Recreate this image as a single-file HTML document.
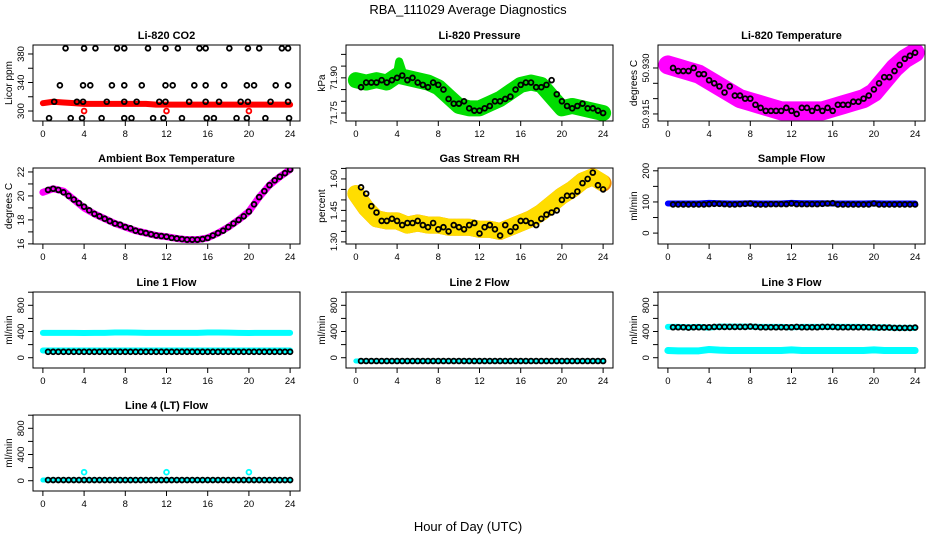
<!DOCTYPE html>
<html><head><meta charset="utf-8">
<style>
html,body{margin:0;padding:0;background:#fff;}
svg{display:block;font-family:"Liberation Sans",sans-serif;}
</style></head>
<body>
<svg id="chart" width="936" height="540" viewBox="0 0 936 540" xmlns="http://www.w3.org/2000/svg">
<rect x="0" y="0" width="936" height="540" fill="#fff"/>
<text x="468" y="14" text-anchor="middle" font-size="13">RBA_111029  Average Diagnostics</text>
<text x="468" y="531" text-anchor="middle" font-size="13">Hour of Day (UTC)</text>
</svg>
<script>
// ---- shared categories ----
const bandHours = [0,1,2,3,4,5,6,7,8,9,10,11,12,13,14,15,16,17,18,19,20,21,22,23,24];
const circHours = [0.5,1,1.5,2,2.5,3,3.5,4,4.5,5,5.5,6,6.5,7,7.5,8,8.5,9,9.5,10,10.5,11,11.5,12,12.5,13,13.5,14,14.5,15,15.5,16,16.5,17,17.5,18,18.5,19,19.5,20,20.5,21,21.5,22,22.5,23,23.5,24];
const xTicks = [0,4,8,12,16,20,24];

// ---- CO2 ----
const co2Band = [311,313,312,311,310,310,310,310,310,310,310,309,309,309,309,309,309,309,309,309,309,309,309,309,309];
const co2CircH = [2.2,4.0,5.1,7.2,7.9,10.2,11.9,13.1,15.2,15.8,18.1,19.9,21.0,23.2,23.8,
  1.65,3.9,4.6,6.7,7.9,9.6,11.9,12.6,14.7,15.8,17.6,19.8,20.5,22.6,23.8,
  1.1,3.3,3.9,6.2,7.9,9.1,11.3,11.9,14.2,15.8,17.1,19.2,19.9,22.1,23.8,
  0.6,2.7,3.8,5.7,7.9,8.6,10.7,11.7,13.5,15.9,16.6,18.8,19.8,21.6,23.9];
const co2CircV = [388,388,388,388,388,388,388,388,388,388,388,388,388,388,388,
  336,336,336,336,336,336,336,336,336,336,336,336,336,336,336,
  313,313,313,313,313,313,313,313,313,313,313,313,313,313,313,
  290,290,290,290,290,290,290,290,290,290,290,290,290,290,290];
const co2OutH = [4,12,20];
const co2OutV = [300,300,300];

// ---- Pressure ----
const presBand = [71.89,71.88,71.89,71.88,71.91,71.90,71.89,71.88,71.86,71.82,71.78,71.77,71.77,71.79,71.81,71.84,71.87,71.88,71.87,71.82,71.77,71.78,71.77,71.76,71.75];
const presCirc = [71.86,71.88,71.88,71.88,71.89,71.88,71.89,71.90,71.91,71.89,71.90,71.88,71.87,71.86,71.88,71.87,71.85,71.81,71.79,71.79,71.80,71.77,71.76,71.76,71.77,71.78,71.80,71.80,71.81,71.82,71.85,71.87,71.88,71.88,71.86,71.86,71.87,71.89,71.83,71.80,71.78,71.77,71.78,71.79,71.77,71.77,71.76,71.75];
const presSpikeH = [4.0,4.2,4.5];
const presSpikeV = [71.92,71.97,71.93];

// ---- Li-820 Temperature ----
const ltBand = [50.931,50.930,50.929,50.928,50.926,50.924,50.922,50.920,50.919,50.918,50.917,50.916,50.916,50.916,50.916,50.916,50.917,50.918,50.919,50.920,50.922,50.926,50.930,50.933,50.935];
const ltCirc = [50.930,50.929,50.929,50.929,50.930,50.928,50.928,50.926,50.925,50.924,50.922,50.924,50.921,50.921,50.920,50.920,50.918,50.917,50.916,50.916,50.916,50.916,50.917,50.916,50.915,50.917,50.917,50.916,50.917,50.916,50.917,50.916,50.918,50.918,50.918,50.919,50.919,50.920,50.921,50.923,50.925,50.927,50.927,50.929,50.931,50.933,50.934,50.935];

// ---- Ambient ----
const ambBand = [20.3,20.6,20.4,19.7,19.0,18.5,18.1,17.7,17.4,17.1,16.9,16.7,16.6,16.45,16.35,16.35,16.5,16.9,17.4,18.0,18.7,19.9,20.9,21.6,22.2];
const ambCirc = [20.5,20.6,20.5,20.3,20.0,19.7,19.4,19.1,18.8,18.5,18.3,18.1,17.9,17.7,17.6,17.4,17.3,17.1,17.0,16.9,16.8,16.7,16.65,16.6,16.5,16.45,16.4,16.35,16.35,16.35,16.4,16.5,16.7,16.9,17.1,17.4,17.7,18.0,18.3,18.7,19.3,19.9,20.4,20.9,21.3,21.6,21.9,22.2];

// ---- RH ----
const rhBand = [1.53,1.46,1.41,1.40,1.40,1.38,1.39,1.38,1.38,1.37,1.37,1.37,1.36,1.36,1.35,1.37,1.39,1.41,1.44,1.48,1.52,1.55,1.59,1.61,1.58];
const rhCirc = [1.56,1.53,1.47,1.44,1.40,1.40,1.41,1.40,1.38,1.39,1.39,1.40,1.38,1.37,1.39,1.36,1.37,1.35,1.38,1.37,1.36,1.38,1.39,1.34,1.37,1.38,1.36,1.33,1.38,1.35,1.37,1.40,1.40,1.39,1.38,1.41,1.43,1.44,1.45,1.50,1.52,1.52,1.54,1.58,1.60,1.63,1.57,1.55];

// ---- Flows ----
const sfBand = [95,95,95,95,97,96,95,95,96,95,95,95,97,96,96,96,95,95,95,95,96,95,95,95,95];
const sfCirc = [92,92,92,92,92,92,92,93,94,94,93,92,92,93,94,95,92,92,92,93,93,93,93,95,93,93,93,93,93,94,95,96,92,92,92,92,92,92,92,95,92,92,92,92,92,92,92,92];
const l1BandA = [380,380,380,380,378,380,380,385,385,382,380,380,380,380,380,380,385,385,382,380,378,380,380,380,380];
const l1BandB = [110,110,110,110,110,110,110,110,110,110,110,110,110,110,110,110,110,110,110,110,110,110,110,110,110];
const l1Circ = [90,90,90,90,90,90,90,90,90,90,90,90,90,90,90,90,90,90,90,90,90,90,90,90,90,90,90,90,90,90,90,90,90,90,90,90,90,90,90,90,90,90,90,90,90,90,90,90];
const l2Band = [-50,-50,-50,-50,-50,-50,-50,-50,-50,-50,-50,-50,-50,-50,-50,-50,-50,-50,-50,-50,-50,-50,-50,-50,-50];
const l2Circ = [-50,-50,-50,-50,-50,-50,-50,-50,-50,-50,-50,-50,-50,-50,-50,-50,-50,-50,-50,-50,-50,-50,-50,-50,-50,-50,-50,-50,-50,-50,-50,-50,-50,-50,-50,-50,-50,-50,-50,-50,-50,-50,-50,-50,-50,-50,-50,-50];
const l3BandA = [470,470,465,470,460,475,475,475,475,470,470,470,465,470,470,470,470,470,470,470,460,465,455,455,455];
const l3BandB = [110,105,105,105,125,115,110,110,110,110,110,110,120,110,110,110,110,110,110,110,120,110,110,110,110];
const l3Circ = [465,465,465,460,465,465,465,465,470,470,470,470,470,470,470,475,470,465,465,465,465,465,465,465,470,465,465,465,465,470,470,470,465,465,465,465,465,465,465,465,460,460,460,455,455,455,455,460];
const l4Band = [10,10,10,10,10,10,10,10,10,10,10,10,10,10,10,10,10,10,10,10,10,10,10,10,10];
const l4Circ = [10,10,10,10,10,10,10,10,10,10,10,10,10,10,10,10,10,10,10,10,10,10,10,10,10,10,10,10,10,10,10,10,10,10,10,10,10,10,10,10,10,10,10,10,10,10,10,10];
const l4OutH = [4,12,20];
const l4OutV = [130,130,130];

// ---- tick labels ----
const co2Ticks = [300,320,340,360,380]; const co2Labels = ["300","","340","","380"];
const presTicks = [71.75,71.80,71.85,71.90,71.95,72.00]; const presLabels = ["71.75","","","71.90","",""];
const ltTicks = [50.915,50.920,50.925,50.930]; const ltLabels = ["50.915","","","50.930"];
const ambTicks = [16,17,18,19,20,21,22]; const ambLabels = ["16","","18","","20","","22"];
const rhTicks = [1.30,1.35,1.40,1.45,1.50,1.55,1.60,1.65]; const rhLabels = ["1.30","","","1.45","","","1.60",""];
const sfTicks = [0,50,100,150,200]; const sfLabels = ["0","","100","","200"];
const flTicks = [0,200,400,600,800,1000]; const flLabels = ["0","","400","","800",""];

const svg = document.getElementById('chart');
const NS = 'http://www.w3.org/2000/svg';
function mk(tag, attrs){const e=document.createElementNS(NS,tag);for(const k in attrs)e.setAttribute(k,attrs[k]);svg.appendChild(e);return e;}

const PW = 267, PH = 76;
function panel(cfg){
  const L=cfg.left, T=cfg.top;
  const xs = h => L + (h+0.96)/25.92*PW;
  const ys = v => T + PH - (v-cfg.ymin)/(cfg.ymax-cfg.ymin)*PH;
  const g = {xs, ys};
  const t = mk('text',{x:L+PW/2,y:T-6,'text-anchor':'middle','font-size':'11','font-weight':'bold'});
  t.textContent = cfg.title;
  
  
  xTicks.forEach(v=>{
    const ln = mk('line',{x1:xs(v),x2:xs(v),y1:T+PH,y2:T+PH+5,stroke:'#000','stroke-width':1});
    
    
    const tx = mk('text',{x:xs(v),y:T+PH+16,'text-anchor':'middle','font-size':'9.5'});
    tx.textContent = String(v);
    
    
  });
  cfg.yticks.forEach((v,i)=>{
    const y=ys(v);
    const ln = mk('line',{x1:L-5,x2:L,y1:y,y2:y,stroke:'#000','stroke-width':1});
    
    
    if(cfg.ylabels[i]){
      const tx = mk('text',{x:L-9,y:y,'text-anchor':'middle','font-size':'9.5',transform:`rotate(-90 ${L-9} ${y})`});
      tx.textContent = cfg.ylabels[i];
      
      
    }
  });
  const yt = mk('text',{x:L-21,y:T+PH/2,'text-anchor':'middle','font-size':'10',transform:`rotate(-90 ${L-21} ${T+PH/2})`});
  yt.textContent = cfg.ytitle;
  
  
  const cp = document.createElementNS(NS,'clipPath'); cp.setAttribute('id','clip-'+cfg.id);
  const cr = document.createElementNS(NS,'rect'); cr.setAttribute('x',L);cr.setAttribute('y',T);cr.setAttribute('width',PW);cr.setAttribute('height',PH);
  cp.appendChild(cr); svg.appendChild(cp);
  g.grp = mk('g',{'clip-path':`url(#clip-${cfg.id})`});
  
  
  g.finish = ()=>{
    const b = mk('rect',{x:L,y:T,width:PW,height:PH,fill:'none',stroke:'#000','stroke-width':1});
    
    
  };
  return g;
}
function band(g, hours, vals, color, width, name, dash){
  const pts = hours.map((h,i)=>g.xs(h)+','+g.ys(vals[i])).join(' ');
  const p = document.createElementNS(NS,'polyline');
  p.setAttribute('points',pts);p.setAttribute('fill','none');p.setAttribute('stroke',color);
  p.setAttribute('stroke-width',width);p.setAttribute('stroke-linecap','round');p.setAttribute('stroke-linejoin','round');
  if(dash){p.setAttribute('stroke-dasharray',dash);}
  
  
  g.grp.appendChild(p);
}
function circles(g, hours, vals, color, name){
  const n=Math.min(hours.length,vals.length);
  for(let i=0;i<n;i++){
    const c=document.createElementNS(NS,'circle');
    c.setAttribute('cx',g.xs(hours[i]));c.setAttribute('cy',g.ys(vals[i]));c.setAttribute('r',2.4);
    c.setAttribute('fill','none');c.setAttribute('stroke',color);c.setAttribute('stroke-width',1.8);
    
    
    g.grp.appendChild(c);
  }
}
const C1=33, C2=346, C3=658, R1=45, R2=168, R3=292, R4=415;

let g;
g = panel({id:'co2',title:'Li-820 CO2',left:C1,top:R1,ymin:286,ymax:392.6,yticks:co2Ticks,ylabels:co2Labels,ytitle:'Licor ppm'});
band(g,bandHours,co2Band,'#ff0000',6,'co2-band');
circles(g,co2OutH,co2OutV,'#ff0000','co2-outlier');
circles(g,co2CircH,co2CircV,'#000','co2-point');
g.finish();

g = panel({id:'pressure',title:'Li-820 Pressure',left:C2,top:R1,ymin:71.716,ymax:72.04,yticks:presTicks,ylabels:presLabels,ytitle:'kPa'});
band(g,bandHours,presBand,'#00dd00',16,'pressure-band');
band(g,presSpikeH,presSpikeV,'#00dd00',8,'pressure-spike');
circles(g,circHours,presCirc,'#000','pressure-point');
g.finish();

g = panel({id:'li-temp',title:'Li-820 Temperature',left:C3,top:R1,ymin:50.9127,ymax:50.9375,yticks:ltTicks,ylabels:ltLabels,ytitle:'degrees C'});
band(g,bandHours,ltBand,'#ff00ff',19,'li-temp-band');
circles(g,circHours,ltCirc,'#000','li-temp-point');
g.finish();

g = panel({id:'ambient',title:'Ambient Box Temperature',left:C1,top:R2,ymin:15.99,ymax:22.33,yticks:ambTicks,ylabels:ambLabels,ytitle:'degrees C'});
band(g,bandHours,ambBand,'#ff00ff',7,'ambient-band');
circles(g,circHours,ambCirc,'#000','ambient-point');
g.finish();

g = panel({id:'rh',title:'Gas Stream RH',left:C2,top:R2,ymin:1.29,ymax:1.652,yticks:rhTicks,ylabels:rhLabels,ytitle:'percent'});
band(g,bandHours,rhBand,'#f08c00',17,'rh-band');
band(g,bandHours,rhBand,'#ffdd00',17,'rh-band-overlay','1 3');
circles(g,circHours,rhCirc,'#000','rh-point');
g.finish();

g = panel({id:'sample-flow',title:'Sample Flow',left:C3,top:R2,ymin:-35,ymax:209,yticks:sfTicks,ylabels:sfLabels,ytitle:'ml/min'});
band(g,bandHours,sfBand,'#0000ff',6,'sample-flow-band');
circles(g,circHours,sfCirc,'#000','sample-flow-point');
g.finish();

g = panel({id:'line1',title:'Line 1 Flow',left:C1,top:R3,ymin:-157,ymax:1003,yticks:flTicks,ylabels:flLabels,ytitle:'ml/min'});
band(g,bandHours,l1BandA,'#00ffff',6,'line1-band-upper');
band(g,bandHours,l1BandB,'#00ffff',6,'line1-band-lower');
circles(g,circHours,l1Circ,'#000','line1-point');
g.finish();

g = panel({id:'line2',title:'Line 2 Flow',left:C2,top:R3,ymin:-157,ymax:1003,yticks:flTicks,ylabels:flLabels,ytitle:'ml/min'});
band(g,bandHours,l2Band,'#00ffff',5,'line2-band');
circles(g,circHours,l2Circ,'#000','line2-point');
g.finish();

g = panel({id:'line3',title:'Line 3 Flow',left:C3,top:R3,ymin:-157,ymax:1003,yticks:flTicks,ylabels:flLabels,ytitle:'ml/min'});
band(g,bandHours,l3BandA,'#00ffff',6,'line3-band-upper');
band(g,bandHours,l3BandB,'#00ffff',7,'line3-band-lower');
circles(g,circHours,l3Circ,'#000','line3-point');
g.finish();

g = panel({id:'line4',title:'Line 4 (LT) Flow',left:C1,top:R4,ymin:-157,ymax:1003,yticks:flTicks,ylabels:flLabels,ytitle:'ml/min'});
band(g,bandHours,l4Band,'#00ffff',5,'line4-band');
circles(g,l4OutH,l4OutV,'#00ffff','line4-outlier');
circles(g,circHours,l4Circ,'#000','line4-point');
g.finish();
</script>
</body></html>
